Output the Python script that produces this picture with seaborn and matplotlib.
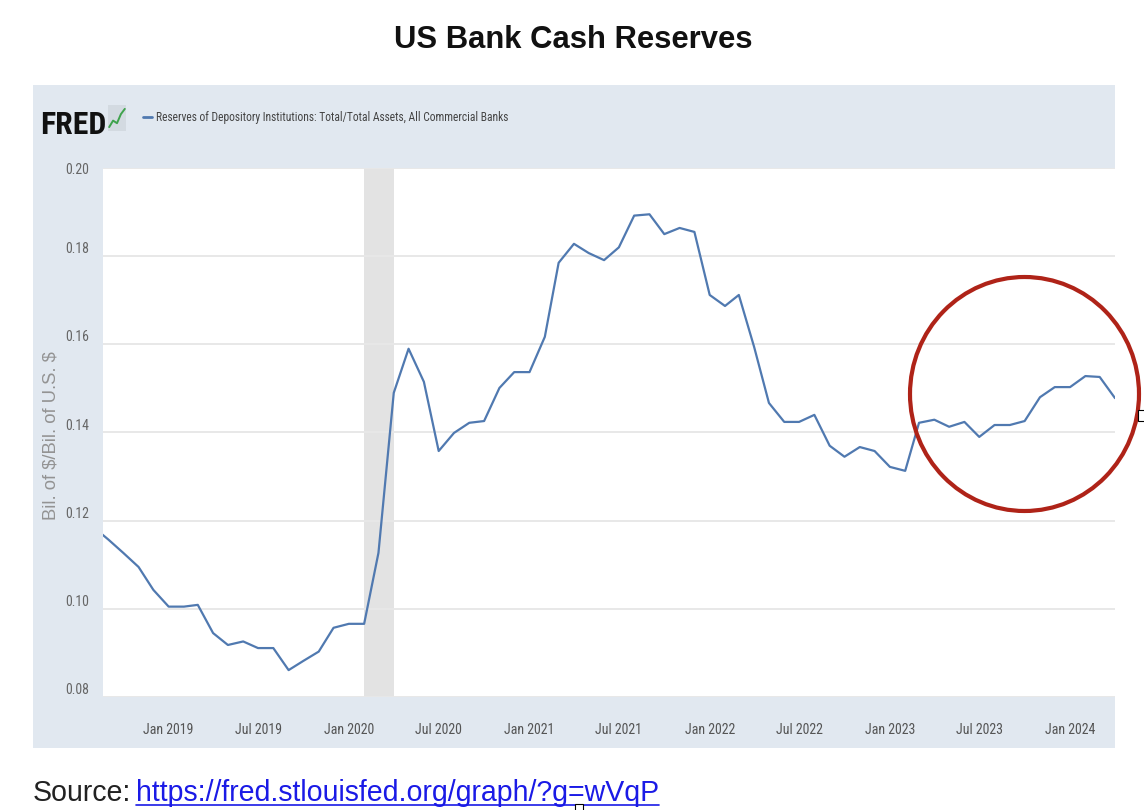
import matplotlib
matplotlib.use("Agg")
import matplotlib.pyplot as plt
from matplotlib.patches import Rectangle, Ellipse
from matplotlib.lines import Line2D
import seaborn as sns
import pandas as pd

# ---------------- data ----------------
months = pd.date_range("2018-08-01", "2024-04-01", freq="MS")
reserves_ratio = [
    0.1186, 0.1157, 0.1127, 0.1095, 0.1043,                      # 2018 Aug-Dec
    0.1005, 0.1005, 0.1009, 0.0945, 0.0918, 0.0926,
    0.0911, 0.0911, 0.0861, 0.0882, 0.0903, 0.0957,              # 2019
    0.0966, 0.0966, 0.1127, 0.1490, 0.1590, 0.1515,
    0.1358, 0.1399, 0.1422, 0.1426, 0.1501, 0.1537,              # 2020
    0.1537, 0.1617, 0.1785, 0.1828, 0.1807, 0.1791,
    0.1820, 0.1892, 0.1895, 0.1850, 0.1864, 0.1855,              # 2021
    0.1712, 0.1687, 0.1712, 0.1594, 0.1467, 0.1424,
    0.1424, 0.1440, 0.1370, 0.1345, 0.1367, 0.1358,              # 2022
    0.1322, 0.1313, 0.1422, 0.1429, 0.1413, 0.1424,
    0.1390, 0.1417, 0.1417, 0.1426, 0.1480, 0.1503,              # 2023
    0.1503, 0.1528, 0.1526, 0.1478,                              # 2024 Jan-Apr
]
y_ticks = [0.08, 0.10, 0.12, 0.14, 0.16, 0.18, 0.20]
y_tick_labels = ["0.08", "0.10", "0.12", "0.14", "0.16", "0.18", "0.20"]
x_tick_dates = pd.date_range("2019-01-01", "2024-01-01", freq="6MS")
x_tick_labels = ["Jan 2019", "Jul 2019", "Jan 2020", "Jul 2020", "Jan 2021", "Jul 2021",
                 "Jan 2022", "Jul 2022", "Jan 2023", "Jul 2023", "Jan 2024"]
recession = ("2020-02-01", "2020-04-01")
x_range = ("2018-08-21", "2024-04-01")
title = "US Bank Cash Reserves"
series_label = "Reserves of Depository Institutions: Total/Total Assets, All Commercial Banks"
y_label = "Bil. of $/Bil. of U.S. $"
logo_text = "FRED"
source_prefix = "Source:"
source_link = "https://fred.stlouisfed.org/graph/?g=wVqP"

# ---------------- style ----------------
BAND = "#E1E8F0"
LINE = "#5079B0"
GRID = "#E8E8E8"
REC = "#E3E3E3"
CIRCLE = "#AF2318"
COND = ["Roboto Condensed", "Liberation Sans Narrow", "DejaVu Sans"]
HEAVY = ["Liberation Sans Narrow", "Roboto Condensed", "DejaVu Sans"]

sns.set_style("white")
plt.rcParams["font.family"] = ["Liberation Sans", "DejaVu Sans"]

W, H = 1144, 810
def fx(x): return x / W
def fy(y): return 1 - y / H

fig = plt.figure(figsize=(W / 100, H / 100), dpi=100)
renderer = fig.canvas.get_renderer()

def fit_length(t, target):
    bb = t.get_window_extent(renderer)
    t.set_fontsize(t.get_fontsize() * target / max(bb.width, bb.height))

# FRED frame
fig.patches.append(Rectangle((fx(33), fy(748)), fx(1115) - fx(33), fy(85) - fy(748),
                             transform=fig.transFigure, facecolor=BAND,
                             edgecolor="none", zorder=-2))

ax = fig.add_axes([fx(103), fy(697), fx(1115) - fx(103), fy(168) - fy(697)])
ax.set_facecolor("white")
ax.axvspan(pd.Timestamp(recession[0]), pd.Timestamp(recession[1]),
           color=REC, lw=0, zorder=0)
sns.lineplot(x=months, y=reserves_ratio, ax=ax, color=LINE, linewidth=1.6, zorder=3)
ax.set_xlim(pd.Timestamp(x_range[0]), pd.Timestamp(x_range[1]))
ax.set_ylim(y_ticks[0], y_ticks[-1])
ax.set_yticks(y_ticks)
ax.set_yticklabels(y_tick_labels)
ax.set_xticks(x_tick_dates)
ax.set_xticklabels(x_tick_labels)
ax.set_xlabel("")
ax.set_ylabel("")
ax.grid(axis="y", color=GRID, lw=1.4)
ax.grid(axis="x", visible=False)
ax.set_axisbelow(True)
for s in ax.spines.values():
    s.set_visible(False)
ax.tick_params(axis="y", length=0, pad=10, labelcolor="#666666", labelsize=10)
ax.tick_params(axis="x", length=16, width=0.8, color="#C9D1DA", pad=3,
               labelcolor="#555555", labelsize=10)
for lbl in ax.get_yticklabels() + ax.get_xticklabels():
    lbl.set_fontfamily(COND)
for lbl in ax.get_yticklabels()[:-1]:
    lbl.set_va("bottom")

# header: logo
fred = fig.text(fx(40), fy(134), logo_text, fontsize=30, fontweight="bold",
                family=HEAVY, color="#111111", va="baseline", ha="left")
fit_length(fred, 66)
# small chart icon next to the logo
icon_trend = [0.15, 0.4, 0.3, 0.65, 0.85]
icon_ax = fig.add_axes([fx(108), fy(131), fx(18), 26 / H])
icon_ax.set_facecolor("#D3DAE1")
icon_ax.plot(range(len(icon_trend)), icon_trend, color="#3FA34D", lw=1.4)
icon_ax.set_xlim(-0.3, len(icon_trend) - 0.7)
icon_ax.set_ylim(0, 1)
icon_ax.set_xticks([])
icon_ax.set_yticks([])
for s in icon_ax.spines.values():
    s.set_visible(False)

# header: series legend
fig.lines.append(Line2D([fx(143), fx(152)], [fy(117), fy(117)],
                        transform=fig.transFigure, color=LINE, lw=2))
leg = fig.text(fx(156), fy(117), series_label, fontsize=10, color="#444444",
               family=COND, va="center", ha="left")
fit_length(leg, 352)

# y axis title (rotated)
ylab = fig.text(fx(51), fy(436), y_label, rotation=90, ha="center", va="center",
                color="#939393", fontsize=9, parse_math=False)
fit_length(ylab, 170)

# title
tt = fig.text(fx(573), fy(40), title, fontsize=20, fontweight="bold",
              ha="center", va="center", color="#111111")
fit_length(tt, 358)

# red circle
fig.patches.append(Ellipse((fx(1024.5), fy(394)), fx(229), 234 / H,
                           transform=fig.transFigure, facecolor="none",
                           edgecolor=CIRCLE, lw=3, zorder=5))
# selection handles
fig.patches.append(Rectangle((fx(1138), fy(421)), fx(7), 11 / H,
                             transform=fig.transFigure, facecolor="white",
                             edgecolor="black", lw=0.8, zorder=6))
fig.patches.append(Rectangle((fx(575), fy(812)), fx(8), 8 / H,
                             transform=fig.transFigure, facecolor="white",
                             edgecolor="black", lw=0.8, zorder=6))

# source
src = fig.text(fx(33), fy(801), source_prefix, fontsize=16, color="#222222",
               va="baseline", ha="left")
lnk = fig.text(fx(136), fy(801), source_link, fontsize=16, color="#1A1AE6",
               va="baseline", ha="left")
fit_length(lnk, 524)
src.set_fontsize(lnk.get_fontsize())
bb = lnk.get_window_extent(renderer)
fig.lines.append(Line2D([fx(bb.x0), fx(bb.x1)], [fy(805), fy(805)],
                        transform=fig.transFigure, color="#1A1AE6", lw=1.2))

fig.savefig("out.png", dpi=100)
